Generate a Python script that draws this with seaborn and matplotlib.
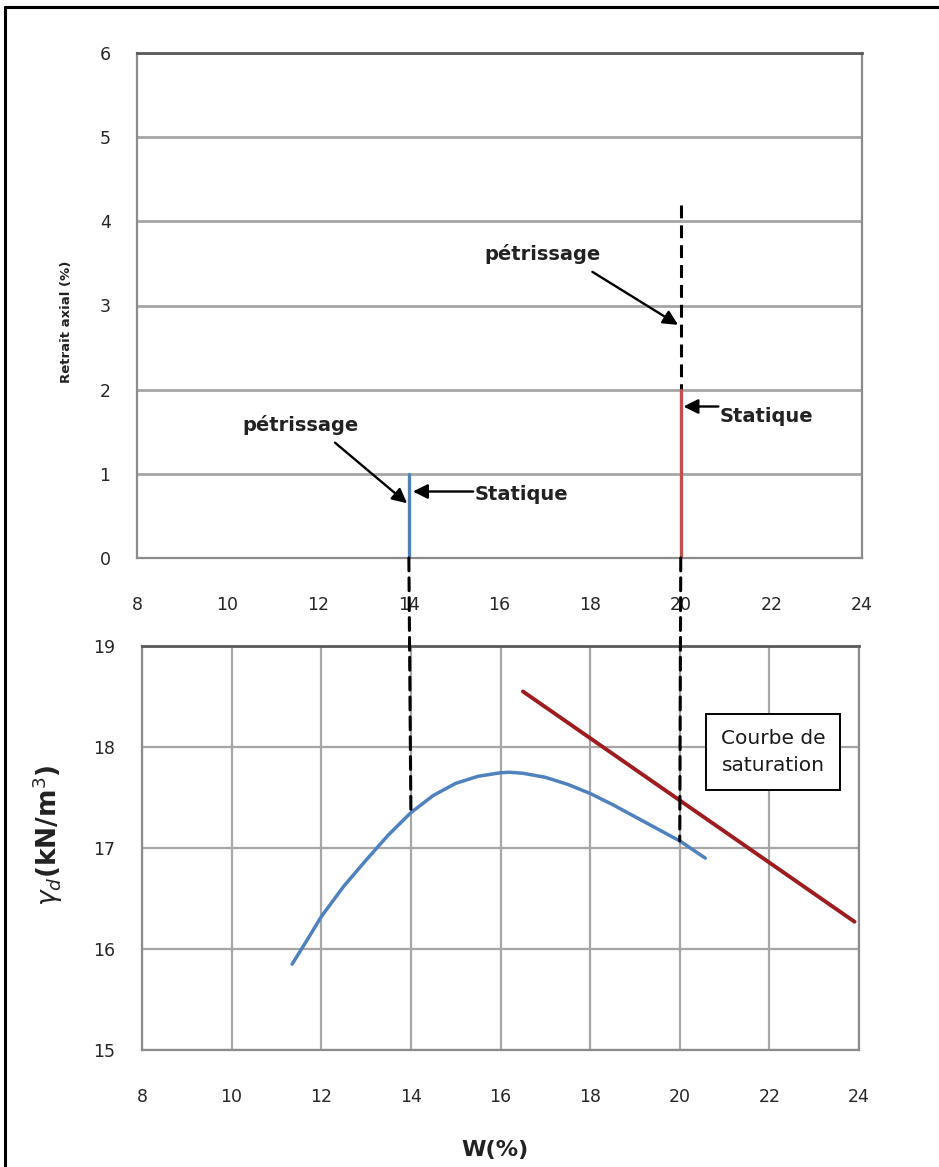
import numpy as np
import pandas as pd
import matplotlib
matplotlib.use("Agg")
import matplotlib.pyplot as plt
import seaborn as sns
from matplotlib.patches import ConnectionPatch
from matplotlib.lines import Line2D

# ---------------- data ----------------
x_ticks = [8, 10, 12, 14, 16, 18, 20, 22, 24]
top_yticks = [0, 1, 2, 3, 4, 5, 6]
bot_yticks = [15, 16, 17, 18, 19]

# top chart: axial shrinkage vertical segments (W, retrait)
seg_blue_w = [14, 14]
seg_blue_r = [0, 1.0]
seg_red_w = [20, 20]
seg_red_r = [0, 2.0]

# compaction curve (W %, gamma_d)
proctor_w = [11.35, 11.7, 12.0, 12.5, 13.0, 13.5, 14.0, 14.5, 15.0, 15.5, 16.0,
             16.2, 16.5, 17.0, 17.5, 18.0, 18.5, 19.0, 19.5, 20.0, 20.57]
proctor_g = [15.85, 16.10, 16.32, 16.62, 16.88, 17.13, 17.35, 17.52, 17.64, 17.71, 17.745,
             17.75, 17.74, 17.70, 17.63, 17.54, 17.43, 17.31, 17.19, 17.07, 16.90]

# saturation line
sat_w = [16.5, 23.9]
sat_g = [18.55, 16.27]

# dashed guide lines (W, top start, bottom end)
guide_w = [14, 20]
guide_top = [0.0, 4.2]
guide_bot = [17.35, 17.07]

# ---------------- style ----------------
sns.set_theme(style="white")
plt.rcParams['font.family'] = ['DejaVu Sans']

W, H = 939, 1167
fig = plt.figure(figsize=(W / 100, H / 100), dpi=100)
fig.patch.set_facecolor('white')

ax1 = fig.add_axes([137 / W, 1 - 558 / H, (862 - 137) / W, (558 - 53) / H])
ax2 = fig.add_axes([142 / W, 1 - 1050 / H, (859 - 142) / W, (1050 - 646) / H])

grid_c = '#a6a6a6'
tick_c = '#262626'
blue = '#4f81bd'
red_top = '#c0504d'
red_sat = '#9c1c1f'

for ax in (ax1, ax2):
    ax.set_facecolor('white')
    ax.set_xlim(8, 24)
    ax.set_xticks(x_ticks)
    ax.set_xticklabels([str(v) for v in x_ticks])
    for s in ['left', 'right', 'bottom']:
        ax.spines[s].set_color('#8c8c8c')
        ax.spines[s].set_linewidth(1.6)
    ax.spines['top'].set_color('#5a5a5a')
    ax.spines['top'].set_linewidth(2.0)
    ax.tick_params(axis='both', direction='out', length=5, width=1.2, color='#8c8c8c',
                   labelsize=12.5, labelcolor=tick_c)
    ax.tick_params(axis='x', pad=22)
    ax.tick_params(axis='y', pad=14)

# ---- top chart ----
ax1.set_ylim(0, 6)
ax1.set_yticks(top_yticks)
ax1.set_yticklabels([str(v) for v in top_yticks])
ax1.yaxis.grid(True, color=grid_c, linewidth=2.0)
ax1.xaxis.grid(False)
ax1.set_axisbelow(True)

sns.lineplot(x=seg_blue_w, y=seg_blue_r, ax=ax1, color=blue, linewidth=2.4,
             estimator=None, sort=False, zorder=4)
sns.lineplot(x=seg_red_w, y=seg_red_r, ax=ax1, color=red_top, linewidth=2.4,
             estimator=None, sort=False, zorder=4)

dash = (0, (4.2, 2.3))
# dashed above red segment at W=20
ax1.plot([guide_w[1], guide_w[1]], [guide_top[1], seg_red_r[1]], color='black',
         linewidth=2.2, linestyle=dash, zorder=3)

ax1.set_ylabel('Retrait axial (%)', fontsize=9.5, fontweight='bold', color='#222222')
ax1.yaxis.set_label_coords(-0.088, 0.467)
ax1.set_xlabel('')

ann_kw = dict(fontsize=14, fontweight='bold', color='#222222')
arrow_kw = dict(arrowstyle='-|>', color='black', lw=1.7, mutation_scale=22,
                shrinkA=0, shrinkB=0)

ax1.text(11.6, 1.58, 'pétrissage', ha='center', va='center', **ann_kw)
ax1.annotate('', xy=(13.96, 0.65), xytext=(12.37, 1.37), arrowprops=arrow_kw)

ax1.text(15.46, 0.75, 'Statique', ha='left', va='center', **ann_kw)
ax1.annotate('', xy=(14.09, 0.79), xytext=(15.42, 0.79), arrowprops=arrow_kw)

ax1.text(16.96, 3.61, 'pétrissage', ha='center', va='center', **ann_kw)
ax1.annotate('', xy=(19.94, 2.77), xytext=(18.05, 3.40), arrowprops=arrow_kw)

ax1.text(20.85, 1.68, 'Statique', ha='left', va='center', **ann_kw)
ax1.annotate('', xy=(20.06, 1.80), xytext=(20.83, 1.80), arrowprops=arrow_kw)

# ---- bottom chart ----
ax2.set_ylim(15, 19)
ax2.set_yticks(bot_yticks)
ax2.set_yticklabels([str(v) for v in bot_yticks])
ax2.grid(True, color=grid_c, linewidth=1.6)
ax2.set_axisbelow(True)

df_p = pd.DataFrame({'W': proctor_w, 'g': proctor_g})
sns.lineplot(data=df_p, x='W', y='g', ax=ax2, color=blue, linewidth=2.5,
             estimator=None, sort=False, zorder=4)
df_s = pd.DataFrame({'W': sat_w, 'g': sat_g})
sns.lineplot(data=df_s, x='W', y='g', ax=ax2, color=red_sat, linewidth=2.8,
             estimator=None, sort=False, zorder=4)

ax2.text(22.08, 17.95, 'Courbe de\nsaturation', ha='center', va='center',
         fontsize=14.5, color='#1a1a1a', linespacing=1.55, zorder=6,
         bbox=dict(boxstyle='square,pad=0.75', facecolor='white', edgecolor='black',
                   linewidth=1.4))

ax2.set_xlabel('W(%)', fontsize=16, fontweight='bold', color='#222222')
ax2.xaxis.set_label_coords(0.492, -0.222)
ax2.set_ylabel(r'$\gamma_d$(kN/m$^3$)', fontsize=19, fontweight='bold', color='#222222')
ax2.yaxis.set_label_coords(-0.108, 0.532)

# ---- dashed guides crossing both charts ----
for w, yt, yb in zip(guide_w, guide_top, guide_bot):
    y0 = yt if w == 14 else 0.0
    con = ConnectionPatch(xyA=(w, y0), coordsA=ax1.transData,
                          xyB=(w, yb), coordsB=ax2.transData,
                          color='black', linewidth=2.2, linestyle=dash, zorder=10)
    fig.add_artist(con)

# ---- outer frame ----
fig.add_artist(Line2D([5 / W, 5 / W], [0, 1 - 7 / H], transform=fig.transFigure,
                      color='black', linewidth=2.2))
fig.add_artist(Line2D([5 / W, 1], [1 - 7 / H, 1 - 7 / H], transform=fig.transFigure,
                      color='black', linewidth=2.2))

fig.savefig('out.png', dpi=100, facecolor='white')
